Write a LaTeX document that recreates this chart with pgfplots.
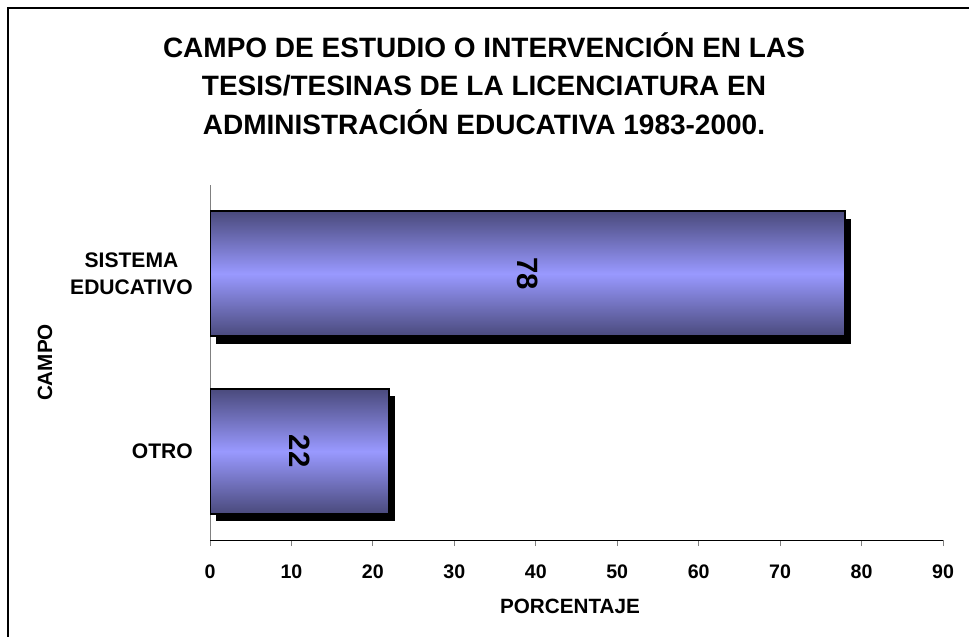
\documentclass[border=0pt]{standalone}
\usepackage{fontspec}
\setmainfont{Liberation Sans}
\usepackage{pgfplots}
\pgfplotsset{compat=1.18}
\usepackage{pgfplotstable}
\definecolor{barDark}{RGB}{74,74,124}
\definecolor{barLight}{RGB}{153,153,255}
\definecolor{axgray}{RGB}{128,128,128}
\pgfdeclareverticalshading{barshade}{100bp}{color(0bp)=(barDark); color(25bp)=(barDark); color(50bp)=(barLight); color(75bp)=(barDark); color(100bp)=(barDark)}
\pgfplotstableread{
pos v
0 22
}\dataotro
\pgfplotstableread{
pos v
1 78
}\datasistema
\pgfplotsset{
  shadowbar/.style={xbar, bar shift=0pt, bar width=93.75pt, fill=black, draw=none, xshift=4.5pt, yshift=-5.6pt, forget plot},
  mainbar/.style={xbar, bar shift=0pt, bar width=93.75pt, draw=black, line width=1.5pt, shading=barshade, forget plot},
  valuelabel/.style={draw=none, mark=none, nodes near coords, point meta=explicit, forget plot,
    every node near coord/.append style={anchor=center, rotate=-90, font=\fontsize{22}{22}\selectfont\bfseries, inner sep=0pt}},
}
\begin{document}
\begin{tikzpicture}
\useasboundingbox (0,0) rectangle (726.75pt,-477pt);
\clip (0,0) rectangle (726.75pt,-477pt);
\draw[line width=2pt] (6pt,-6pt) rectangle (760pt,-500pt);
\node[font=\fontsize{21}{24}\selectfont\bfseries, anchor=base, inner sep=0pt] at (363pt,-43pt) {CAMPO DE ESTUDIO O INTERVENCIÓN EN LAS};
\node[font=\fontsize{21}{24}\selectfont\bfseries, anchor=base, inner sep=0pt] at (363pt,-71.8pt) {TESIS/TESINAS DE LA LICENCIATURA EN};
\node[font=\fontsize{21}{24}\selectfont\bfseries, anchor=base, inner sep=0pt] at (363pt,-100.5pt) {ADMINISTRACIÓN EDUCATIVA 1983-2000.};
\begin{axis}[
  at={(157.5pt,-405pt)}, anchor=south west,
  scale only axis, width=549.75pt, height=266.25pt,
  xmin=0, xmax=90, ymin=-0.5, ymax=1.5,
  enlargelimits=false,
  axis x line=bottom, axis y line=left,
  x axis line style={black, line width=0.75pt, -},
  y axis line style={axgray, line width=0.75pt, -},
  xtick={0,10,...,90},
  xtick align=outside,
  major tick length=4.5pt,
  xtick style={axgray, line width=0.75pt},
  ytick={0,1},
  yticklabels={OTRO,{SISTEMA\\EDUCATIVO}},
  ytick style={draw=none},
  ytick align=inside,
  /pgf/number format/assume math mode=true,
  xticklabel style={font=\fontsize{14.7}{16}\selectfont\bfseries, inner sep=0pt, anchor=north},
  xticklabel shift=14.25pt,
  yticklabel style={font=\fontsize{15.8}{20}\selectfont\bfseries, inner sep=0pt, anchor=east, align=center},
  yticklabel shift=12.75pt,
  xlabel={PORCENTAJE},
  ylabel={CAMPO},
  every axis x label/.style={at={(axis description cs:0.4911,-0.1879)}, anchor=center, font=\fontsize{15.5}{18}\selectfont\bfseries},
  every axis y label/.style={at={(axis description cs:-0.2251,0.5)}, anchor=center, rotate=90, font=\fontsize{15.5}{18}\selectfont\bfseries},
]
\addplot[shadowbar] table[x=v, y=pos]{\datasistema};
\addplot[shadowbar] table[x=v, y=pos]{\dataotro};
\addplot[mainbar] table[x=v, y=pos]{\datasistema};
\addplot[mainbar] table[x=v, y=pos]{\dataotro};
\addplot[valuelabel] table[x expr=\thisrow{v}/2, y=pos, meta=v]{\datasistema};
\addplot[valuelabel] table[x expr=\thisrow{v}/2, y=pos, meta=v]{\dataotro};
\end{axis}
\end{tikzpicture}
\end{document}
